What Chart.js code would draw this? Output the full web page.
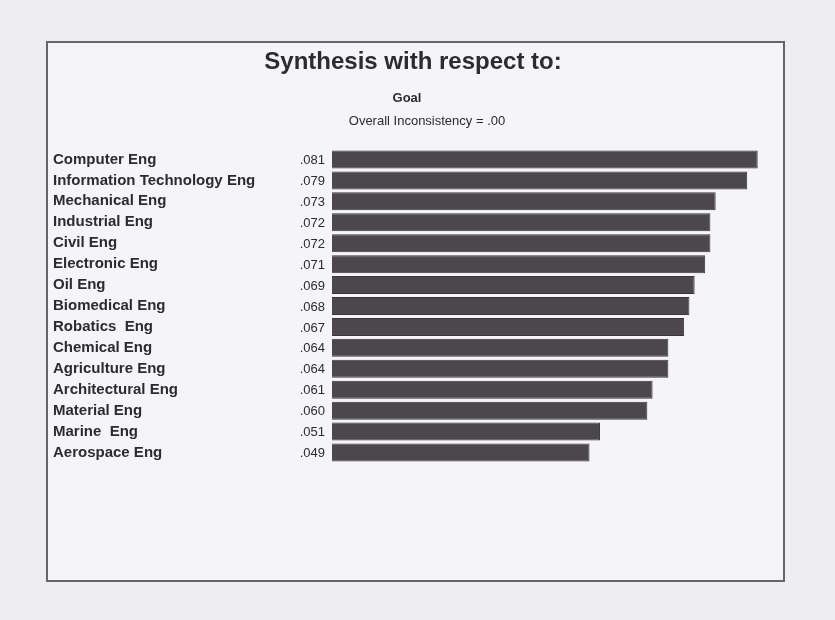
<!DOCTYPE html>
<html>
<head>
<meta charset="utf-8">
<script src="https://cdn.jsdelivr.net/npm/chart.js@4.4.1/dist/chart.umd.min.js"></script>
<style>
  html, body { margin: 0; padding: 0; background: #ededf2; }
  #wrap { width: 835px; height: 620px; position: relative; }
</style>
</head>
<body>
<div id="wrap"><canvas id="synth_chart"></canvas></div>
<script>
// data
var categories = ['Computer Eng', 'Information Technology Eng', 'Mechanical Eng', 'Industrial Eng',
    'Civil Eng', 'Electronic Eng', 'Oil Eng', 'Biomedical Eng', 'Robatics  Eng', 'Chemical Eng',
    'Agriculture Eng', 'Architectural Eng', 'Material Eng', 'Marine  Eng', 'Aerospace Eng'];
var priorities = [0.081, 0.079, 0.073, 0.072, 0.072, 0.071, 0.069, 0.068, 0.067, 0.064,
    0.064, 0.061, 0.060, 0.051, 0.049];
var valueLabels = ['.081', '.079', '.073', '.072', '.072', '.071', '.069', '.068', '.067', '.064',
    '.064', '.061', '.060', '.051', '.049'];
var titleText = 'Synthesis with respect to:';
var goalText = 'Goal';
var inconsistencyText = 'Overall Inconsistency = .00';

// box, titles and the row labels
var panelPlugin = {
    id: 'panel',
    beforeDraw: function (chart) {
        var c = chart.ctx;
        c.save();
        c.fillStyle = '#ededf2';
        c.fillRect(0, 0, chart.width, chart.height);
        c.fillStyle = '#f5f5f8';
        c.fillRect(47, 42, 737, 539);
        c.strokeStyle = '#666669';
        c.lineWidth = 2;
        c.strokeRect(47, 42, 737, 539);

        c.fillStyle = '#2b2b30';
        c.textAlign = 'center';
        c.textBaseline = 'middle';
        c.font = 'bold 24px "Liberation Sans", Arial, sans-serif';
        c.fillText(titleText, 413, 62);
        c.font = 'bold 13px "Liberation Sans", Arial, sans-serif';
        c.fillText(goalText, 407, 98);
        c.font = '13px "Liberation Sans", Arial, sans-serif';
        c.fillText(inconsistencyText, 427, 121);
        c.restore();
    },
    afterDatasetsDraw: function (chart) {
        var c = chart.ctx;
        var yScale = chart.scales.y;
        c.save();
        c.fillStyle = '#2b2b30';
        c.textBaseline = 'middle';
        categories.forEach(function (name, i) {
            var y = yScale.getPixelForValue(i);
            c.textAlign = 'left';
            c.font = 'bold 15px "Liberation Sans", Arial, sans-serif';
            c.fillText(name, 53, y);
            c.textAlign = 'right';
            c.font = '13px "Liberation Sans", Arial, sans-serif';
            c.fillText(valueLabels[i], 325, y + 1);
        });
        c.restore();
    }
};

var ctx = document.getElementById('synth_chart').getContext('2d');
var myChart = new Chart(ctx, {
    type: 'bar',
    data: {
        labels: categories,
        datasets: [{
            data: priorities,
            backgroundColor: '#4b474c',
            borderColor: '#3a373b',
            borderWidth: 1,
            barPercentage: 0.86,
            categoryPercentage: 1.0
        }]
    },
    options: {
        indexAxis: 'y',
        responsive: true,
        maintainAspectRatio: false,
        layout: {
            padding: { left: 332, right: 51, top: 149, bottom: 157 }
        },
        scales: {
            x: { display: false, min: 0, max: 0.086 },
            y: { display: false }
        },
        plugins: {
            legend: { display: false },
            tooltip: { enabled: false }
        },
        animation: false
    },
    plugins: [panelPlugin]
});
</script>
</body>
</html>
